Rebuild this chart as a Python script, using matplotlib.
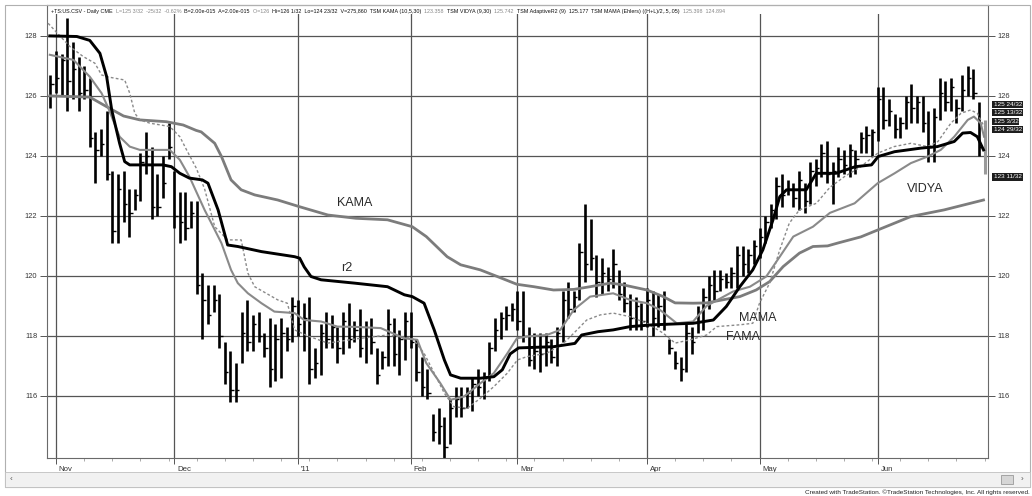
import numpy as np
import matplotlib
matplotlib.use('Agg')
import matplotlib.pyplot as plt
import matplotlib.transforms as mtrans
from matplotlib.patches import Rectangle
from matplotlib.ticker import FixedLocator, MultipleLocator

plt.rcParams['font.family'] = ['Liberation Sans', 'DejaVu Sans']

#==============================================================================
# Data, bar index 0 = first trading day of Nov 2010
#==============================================================================
first_bar = -1

highs = [126.7, 127.5, 127.4, 128.6, 127.8, 127.3, 127.0, 126.6, 124.8, 124.9,
         125.5, 123.5, 123.4, 123.5, 122.9, 122.9, 124.1, 124.8, 124.3, 123.4,
         124.0, 125.1, 123.5, 122.8, 122.8, 122.5, 122.5, 120.1, 119.7, 119.7,
         119.4, 117.8, 117.5, 117.1, 118.8, 119.2, 118.7, 118.8, 118.1, 118.6,
         118.4, 118.6, 118.3, 119.3, 119.2, 119.1, 119.3, 117.6, 118.4, 118.8,
         118.7, 118.3, 118.8, 119.1, 118.5, 118.9, 118.5, 118.6, 117.6, 117.5,
         118.9, 118.6, 118.2, 118.8, 118.8, 117.9, 117.3, 116.9, 115.4, 115.6,
         115.3, 115.9, 116.3, 116.3, 116.3, 116.6, 116.9, 116.8, 117.8, 118.6,
         118.8, 119.0, 119.1, 119.5, 119.5, 118.3, 118.1, 118.1, 118.1, 117.9,
         118.3, 119.5, 119.8, 119.5, 121.1, 122.4, 121.9, 120.7, 120.6, 120.3,
         120.9, 120.2, 119.8, 119.4, 119.3, 119.1, 119.6, 119.5, 119.4, 119.5,
         117.9, 117.5, 117.3, 118.4, 118.3, 119.0, 119.6, 120.0, 120.2, 120.2,
         120.1, 120.3, 121.0, 121.0, 120.9, 121.2, 121.6, 122.0, 122.4, 123.3,
         123.4, 123.2, 123.1, 123.5, 123.1, 123.8, 123.9, 124.4, 124.5, 123.8,
         124.3, 124.2, 124.4, 124.2, 124.8, 125.0, 124.9, 126.3, 126.3, 125.9,
         125.4, 125.3, 126.0, 126.4, 126.0, 126.0, 125.5, 125.6, 126.6, 126.5,
         126.6, 125.9, 126.7, 127.0, 126.9, 125.8]
lows = [125.6, 126.1, 126.0, 125.5, 125.9, 125.5, 125.9, 124.3, 123.1, 124.0,
        123.2, 121.1, 121.1, 121.8, 121.3, 122.2, 122.5, 123.4, 121.9, 122.0,
        122.6, 123.9, 121.6, 121.1, 121.2, 121.6, 119.4, 117.9, 118.4, 118.8,
        117.6, 116.4, 115.8, 115.8, 117.1, 117.5, 117.5, 117.8, 117.3, 116.3,
        116.5, 116.6, 117.5, 117.8, 118.0, 117.5, 116.4, 116.6, 116.7, 117.6,
        117.6, 117.1, 117.4, 117.6, 117.8, 117.3, 117.1, 117.4, 116.4, 116.9,
        117.0, 117.0, 116.7, 117.2, 117.6, 116.5, 116.0, 115.9, 114.5, 114.4,
        113.9, 114.4, 115.3, 115.3, 115.6, 115.5, 116.0, 115.9, 116.5, 117.5,
        117.9, 118.2, 118.5, 118.2, 117.8, 117.0, 116.9, 116.8, 117.0, 117.1,
        117.0, 117.8, 118.6, 118.8, 119.2, 119.8, 120.2, 119.3, 119.4, 119.5,
        119.6, 119.2, 118.8, 118.2, 118.2, 118.2, 118.3, 118.0, 118.3, 118.2,
        117.4, 116.9, 116.5, 116.8, 117.4, 118.1, 118.2, 118.9, 119.2, 119.5,
        119.6, 119.6, 119.6, 120.0, 120.1, 120.4, 120.6, 121.1, 121.6, 121.9,
        122.3, 122.7, 122.3, 122.2, 122.1, 122.4, 123.0, 123.3, 123.1, 122.4,
        123.3, 123.4, 123.3, 123.4, 124.1, 124.1, 124.0, 124.5, 124.9, 125.0,
        124.6, 124.6, 124.9, 125.1, 125.1, 124.8, 123.8, 123.8, 125.2, 125.5,
        125.5, 125.1, 125.5, 126.0, 125.9, 124.0]
closes = [126.4, 126.6, 127.2, 126.5, 126.9, 126.1, 126.2, 124.6, 124.2, 124.4,
          123.4, 121.5, 122.9, 122.4, 122.1, 122.7, 123.8, 124.0, 122.3, 122.3,
          123.1, 124.3, 122.0, 121.8, 121.6, 122.1, 119.7, 119.2, 118.7, 119.2,
          118.0, 116.8, 116.2, 116.2, 118.1, 117.8, 118.4, 118.0, 117.6, 116.9,
          117.9, 118.1, 117.9, 119.0, 118.4, 118.6, 116.9, 117.1, 118.1, 117.9,
          118.3, 117.6, 118.5, 117.9, 118.2, 117.6, 118.0, 117.8, 116.7, 117.3,
          118.4, 117.4, 117.9, 118.5, 117.8, 116.8, 116.3, 116.1, 114.8, 115.0,
          114.3, 115.6, 115.9, 115.6, 116.1, 116.4, 116.3, 116.6, 117.6, 118.2,
          118.6, 118.7, 118.9, 118.5, 118.0, 117.2, 117.5, 117.4, 117.8, 117.3,
          118.1, 119.2, 118.9, 119.3, 120.8, 120.4, 120.6, 119.8, 120.1, 119.9,
          120.4, 119.4, 119.1, 118.6, 119.0, 118.5, 119.2, 118.6, 119.0, 118.4,
          117.6, 117.1, 116.9, 118.1, 117.8, 118.8, 119.3, 119.7, 119.5, 119.9,
          119.8, 120.1, 120.7, 120.4, 120.7, 121.0, 121.3, 121.8, 122.2, 123.0,
          122.7, 122.9, 122.6, 123.2, 122.5, 123.5, 123.6, 124.1, 123.4, 123.5,
          123.9, 123.7, 124.2, 123.9, 124.6, 124.7, 124.8, 125.9, 125.2, 125.5,
          124.9, 125.1, 125.8, 125.6, 125.8, 125.1, 124.3, 125.3, 126.1, 125.8,
          126.3, 125.6, 126.2, 126.6, 126.1, 124.3]

# current (gray) bar at the right edge
last_hi = [125.2]
last_lo = [123.4]

r2_k = [-1.1, 3.7, 6.0, 7.8, 9.0, 9.9, 11.3, 12.2, 13.1, 19.0, 20.5, 22.0, 23.7,
        26.0, 27.0, 28.8, 30.5, 32.3, 36.5, 42.4, 43.3, 44.1, 45.3, 47.1, 53.0,
        58.9, 61.9, 63.3, 65.4, 67.2, 69.0, 70.1, 71.9, 75.4, 77.8, 79.3, 80.7,
        82.2, 88.4, 92.2, 93.4, 96.3, 99.0, 102.0, 106.1, 110.2, 113.2, 116.8,
        119.1, 121.5, 123.8, 125.6, 127.4, 128.6, 129.8, 133.3, 135.1, 138.6,
        142.0, 144.9, 146.1, 149.0, 153.7, 156.6, 159.6, 161.1, 162.5, 163.7, 164.8]
r2_v = [128.0, 127.98, 127.85, 127.42, 126.64, 125.53, 124.42, 123.81, 123.7,
        123.7, 123.64, 123.42, 123.26, 123.2, 123.09, 122.2, 121.03, 120.98,
        120.81, 120.64, 120.59, 120.3, 119.98, 119.87, 119.76, 119.64, 119.37,
        119.31, 119.09, 118.2, 117.2, 116.7, 116.59, 116.59, 116.64, 116.87, 117.4,
        117.6, 117.64, 117.75, 118.03, 118.14, 118.2, 118.31, 118.37, 118.4,
        118.42, 118.53, 118.98, 119.64, 120.2, 120.87, 121.87, 122.64, 122.87,
        122.87, 123.42, 123.42, 123.64, 123.7, 123.98, 124.14, 124.26, 124.31,
        124.48, 124.76, 124.78, 124.64, 124.2]

kama_k = [-1.1, 6.0, 9.0, 12.0, 14.9, 19.6, 22.6, 24.9, 25.8, 28.2, 29.4, 31.1,
          32.9, 35.3, 39.4, 43.2, 48.3, 53.3, 58.9, 63.3, 65.8, 69.5, 71.9, 75.4,
          78.4, 81.9, 84.9, 88.4, 92.0, 94.9, 98.5, 100.8, 105.0, 107.9, 110.0,
          113.2, 115.6, 121.5, 124.4, 126.8, 129.2, 132.1, 134.5, 137.1, 139.0,
          143.0, 146.0, 151.9, 157.8, 164.8]
kama_v = [126.0, 125.96, 125.64, 125.33, 125.2, 125.14, 125.03, 124.85, 124.8,
          124.42, 123.98, 123.2, 122.87, 122.7, 122.53, 122.31, 122.03, 121.92,
          121.87, 121.64, 121.31, 120.64, 120.37, 120.2, 119.98, 119.72, 119.64,
          119.53, 119.55, 119.64, 119.76, 119.7, 119.53, 119.31, 119.1, 119.09,
          119.1, 119.31, 119.53, 119.81, 120.31, 120.76, 120.98, 121.0, 121.1,
          121.3, 121.53, 121.98, 122.2, 122.53]

vidya_k = [-1.1, 3.1, 6.0, 8.1, 9.3, 11.3, 13.1, 14.9, 20.2, 22.0, 23.7, 26.4,
           27.6, 29.4, 31.1, 32.3, 34.1, 36.5, 38.8, 42.4, 44.1, 47.1, 50.0, 53.3,
           57.7, 61.9, 64.2, 65.8, 68.3, 70.1, 72.5, 75.4, 77.8, 80.2, 81.9, 83.7,
           87.2, 89.6, 92.0, 94.9, 99.0, 102.0, 105.0, 107.3, 110.3, 113.2, 115.6,
           120.3, 123.3, 126.2, 128.6, 131.0, 134.5, 137.5, 141.9, 146.0, 149.0,
           151.9, 154.9, 157.2, 159.6, 162.0, 163.1, 164.3, 164.9]
vidya_v = [127.37, 127.2, 126.64, 126.09, 125.59, 124.64, 124.31, 124.2, 124.2,
           123.87, 123.31, 122.2, 121.76, 121.09, 120.2, 119.76, 119.42, 119.09,
           118.81, 118.76, 118.53, 118.48, 118.31, 118.3, 118.26, 117.92, 117.87,
           117.09, 116.42, 115.87, 115.98, 116.42, 116.76, 117.42, 117.92, 117.98,
           118.03, 118.2, 118.87, 119.31, 119.42, 119.2, 119.09, 118.87, 118.42,
           118.48, 119.0, 119.48, 119.64, 119.98, 120.64, 121.31, 121.64, 122.1,
           122.42, 123.09, 123.42, 123.76, 123.98, 124.2, 124.64, 125.2, 125.31,
           125.09, 124.64]

fama_k = [-1.4, 2.5, 4.85, 6.9, 8.1, 9.0, 12.2, 13.1, 14.0, 14.9, 16.7, 20.2,
          22.0, 23.2, 24.9, 26.4, 28.2, 30.5, 32.9, 34.1, 35.3, 39.4, 41.1, 42.4,
          44.7, 48.3, 53.3, 58.9, 63.3, 65.4, 67.2, 69.0, 70.7, 73.1, 75.4, 77.8,
          80.2, 82.0, 83.7, 87.2, 90.2, 92.0, 94.3, 96.7, 99.0, 102.0, 105.0,
          107.9, 110.0, 112.7, 115.6, 117.4, 121.5, 123.8, 125.0, 126.8, 128.6,
          130.3, 132.1, 135.1, 137.5, 140.1, 143.0, 146.0, 148.9, 151.9, 154.9,
          156.7, 159.0, 160.8, 162.5, 163.7, 164.9]
fama_v = [128.42, 127.64, 127.31, 127.09, 126.7, 126.64, 126.53, 126.09, 125.42,
          125.2, 125.09, 124.98, 124.64, 124.2, 123.6, 122.9, 121.64, 121.2, 121.2,
          120.09, 119.64, 119.2, 119.09, 118.2, 118.0, 117.76, 117.9, 118.03,
          117.92, 117.42, 116.76, 116.09, 115.64, 115.59, 115.92, 116.31, 116.76,
          117.2, 117.31, 117.42, 117.76, 118.09, 118.53, 118.7, 118.76, 118.64,
          118.42, 118.09, 117.76, 117.87, 118.03, 118.31, 118.37, 118.42, 119.09,
          119.76, 120.87, 121.76, 122.2, 122.42, 122.95, 123.31, 123.64, 124.09,
          124.31, 124.42, 124.31, 124.48, 125.09, 125.42, 125.53, 125.42, 124.98]

month_pos = [0, 21, 43, 63, 82, 105, 125, 146]
month_lbl = ['Nov', 'Dec', "'11", 'Feb', 'Mar', 'Apr', 'May', 'Jun']
price_ticks = [116, 118, 120, 122, 124, 126, 128]

box_lbl = ['125 24/32', '125 13/32', '125 3/32', '124 29/32', '123 11/32']
box_val = [125.72, 125.45, 125.15, 124.87, 123.3]

#==============================================================================
# Figure / frame
#==============================================================================
W, H = 1032, 496
fig = plt.figure(figsize=(W / 100, H / 100), dpi=100)
fig.patch.set_facecolor('white')

fig.patches.append(Rectangle((5 / W, 1 - 487 / H), 1025 / W, 482 / H,
                             transform=fig.transFigure, fill=False,
                             ec='#b0b0b0', lw=0.8))
fig.patches.append(Rectangle((5 / W, 1 - 487 / H), 1025 / W, 15 / H,
                             transform=fig.transFigure, fc='#f1f1f1',
                             ec='#c0c0c0', lw=0.6))
fig.patches.append(Rectangle((1001 / W, 1 - 484 / H), 12 / W, 9 / H,
                             transform=fig.transFigure, fc='#d6d6d6',
                             ec='#9a9a9a', lw=0.6))
fig.text(11 / W, 1 - 479.5 / H, '\u2039', fontsize=6, color='#555',
         ha='center', va='center')
fig.text(1022 / W, 1 - 479.5 / H, '\u203a', fontsize=6, color='#555',
         ha='center', va='center')
fig.text(1030 / W, 1 - 492 / H,
         'Created with TradeStation. \u00a9TradeStation Technologies, Inc. All rights reserved.',
         fontsize=4.6, color='#222', ha='right', va='center')

ax = fig.add_axes([47 / W, 1 - 458 / H, (988 - 47) / W, (458 - 5) / H])
ax.set_xlim(-1.6, 165.6)
ax.set_ylim(113.93, 129.03)
ax.set_axisbelow(True)

for s in ax.spines.values():
    s.set_color('#6a6a6a')
    s.set_linewidth(0.8)

ax.yaxis.set_major_locator(FixedLocator(price_ticks))
ax.xaxis.set_major_locator(FixedLocator(month_pos))
ax.xaxis.set_minor_locator(MultipleLocator(5))
ax.set_xticklabels(month_lbl)
ax.tick_params(axis='y', which='both', left=True, right=True,
               labelleft=True, labelright=True, length=5, width=0.7,
               color='#555', labelsize=5.4, labelcolor='#333', pad=2)
ax.tick_params(axis='x', which='major', length=4, width=0.7, color='#555',
               labelsize=5.6, labelcolor='#333', pad=2)
ax.tick_params(axis='x', which='minor', length=2, width=0.5, color='#888')
shift = mtrans.ScaledTranslation(2 / 72, 0, fig.dpi_scale_trans)
for lab in ax.get_xticklabels():
    lab.set_ha('left')
    lab.set_transform(lab.get_transform() + shift)

ax.grid(True, which='major', color='#555555', lw=0.9)

# white band under header text so gridlines start below it
ax.add_patch(Rectangle((0, 0.98), 1, 0.02, transform=ax.transAxes,
                       fc='white', ec='none', zorder=1.5))

#==============================================================================
# Bars and indicator lines
#==============================================================================
x = np.arange(len(highs)) + first_bar
ax.vlines(x, lows, highs, color='black', lw=1.9, zorder=2)
ax.hlines(closes, x, x + 0.6, color='black', lw=1.0, zorder=2)
xl = np.arange(len(last_hi)) + x[-1] + 1
ax.vlines(xl, last_lo, last_hi, color='#9a9a9a', lw=2.2, zorder=2)

ax.plot(kama_k, kama_v, color='#7c7c7c', lw=2.0, zorder=3)
ax.plot(vidya_k, vidya_v, color='#8a8a8a', lw=1.5, zorder=3)
ax.plot(fama_k, fama_v, color='#8a8a8a', lw=1.0, ls=(0, (2, 1.6)), zorder=3)
ax.plot(r2_k, r2_v, color='black', lw=2.1, zorder=4)

lab_kw = dict(fontsize=9, color='#2a2a2a', ha='center', va='center', zorder=5)
ax.text(53.0, 122.43, 'KAMA', **lab_kw)
ax.text(51.7, 120.27, 'r2', **lab_kw)
ax.text(124.7, 118.6, 'MAMA', **lab_kw)
ax.text(122.1, 117.97, 'FAMA', **lab_kw)
ax.text(154.5, 122.9, 'VIDYA', **lab_kw)

# right-hand value boxes
for t, v in zip(box_lbl, box_val):
    ax.annotate(t, xy=(1, v), xycoords=('axes fraction', 'data'),
                xytext=(4, 0), textcoords='offset points', ha='left',
                va='center', fontsize=4.6, color='white', annotation_clip=False,
                bbox=dict(boxstyle='square,pad=0.18', fc='#1e1e1e', ec='none'))

#==============================================================================
# Header line (segments chained one after another)
#==============================================================================
sp = '\u00a0\u00a0'
header = [('+TS:US.CSV - Daily CME' + sp, '#111'),
          ('L=125 3/32  -25/32  -0.62%' + sp, '#888'),
          ('B=2.00e-015  A=2.00e-015' + sp, '#111'),
          ('O=126' + sp, '#888'),
          ('Hi=126 1/32  Lo=124 23/32  V=275,860  TSM KAMA (10,5,30)' + sp, '#111'),
          ('123.358' + sp, '#888'),
          ('TSM VIDYA (9,30)' + sp, '#111'),
          ('125.742' + sp, '#888'),
          ('TSM AdaptiveR2 (9)  125.177' + sp, '#111'),
          ('TSM MAMA (Ehlers) ((H+L)/2,.5,.05)' + sp, '#111'),
          ('125.398  124.894', '#888')]

prev = None
for seg, col in header:
    if prev is None:
        prev = ax.annotate(seg, xy=(51 / W, 1 - 13 / H), xycoords='figure fraction',
                           fontsize=3.9, color=col, ha='left',
                           va='baseline', annotation_clip=False, zorder=6)
    else:
        prev = ax.annotate(seg, xy=(1, 0), xycoords=prev, fontsize=3.9,
                           color=col, ha='left', va='bottom',
                           annotation_clip=False, zorder=6)

fig.savefig('out.png', dpi=100, facecolor='white')
